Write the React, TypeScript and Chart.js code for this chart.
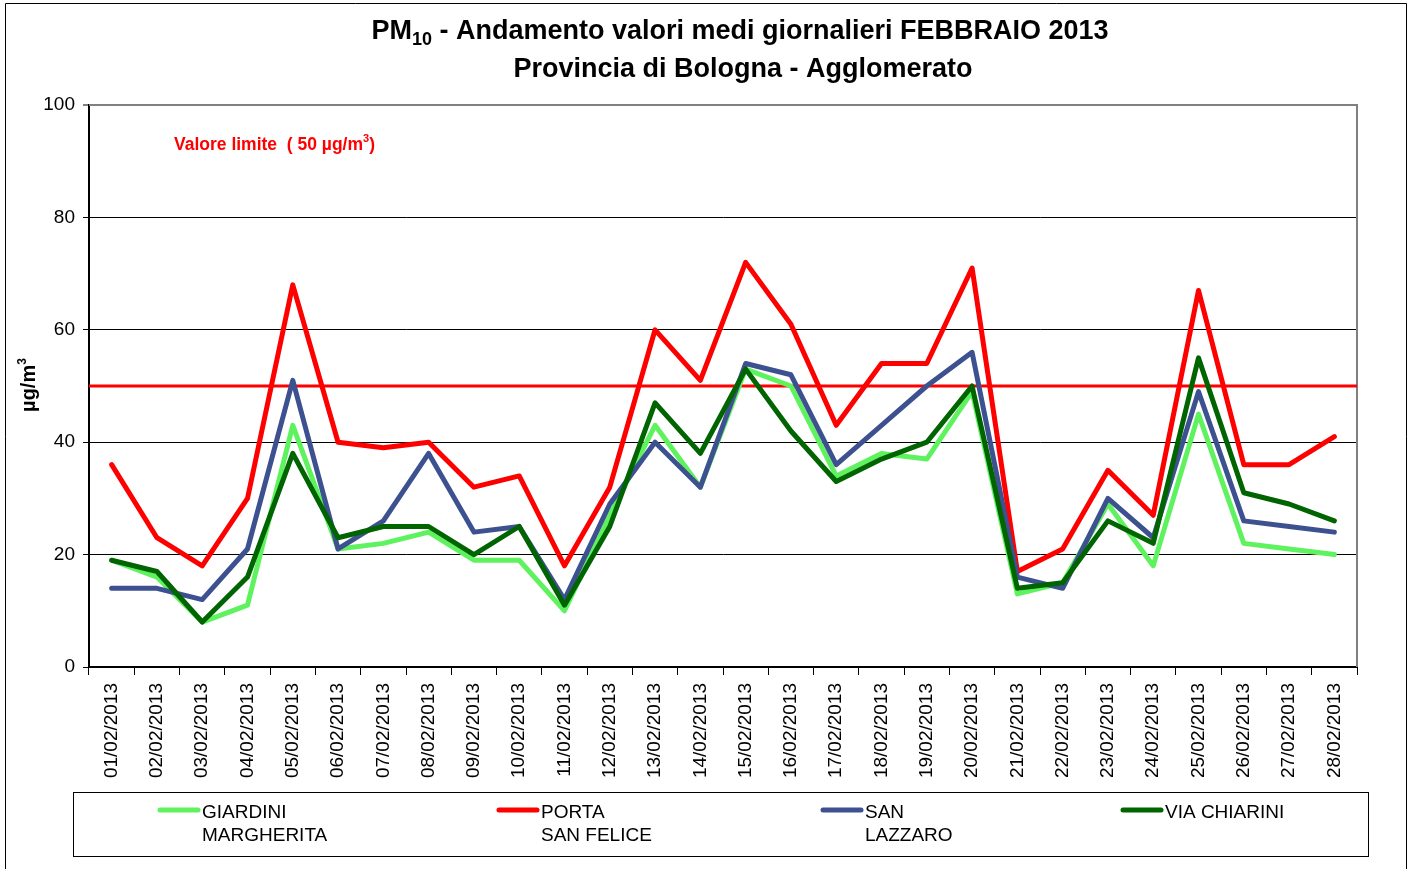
import React, { useEffect, useRef } from "react";
import { Chart, registerables } from "chart.js";

Chart.register(...registerables);

const DATES = [
  "01/02/2013", "02/02/2013", "03/02/2013", "04/02/2013", "05/02/2013", "06/02/2013", "07/02/2013",
  "08/02/2013", "09/02/2013", "10/02/2013", "11/02/2013", "12/02/2013", "13/02/2013", "14/02/2013",
  "15/02/2013", "16/02/2013", "17/02/2013", "18/02/2013", "19/02/2013", "20/02/2013", "21/02/2013",
  "22/02/2013", "23/02/2013", "24/02/2013", "25/02/2013", "26/02/2013", "27/02/2013", "28/02/2013",
];

const GIARDINI = [19, 16, 8, 11, 43, 21, 22, 24, 19, 19, 10, 27, 43, 32, 53, 50, 34, 38, 37, 49, 13, 15, 29, 18, 45, 22, 21, 20];
const PORTA = [36, 23, 18, 30, 68, 40, 39, 40, 32, 34, 18, 32, 60, 51, 72, 61, 43, 54, 54, 71, 17, 21, 35, 27, 67, 36, 36, 41];
const SAN_LAZZARO = [14, 14, 12, 21, 51, 21, 26, 38, 24, 25, 12, 29, 40, 32, 54, 52, 36, 43, 50, 56, 16, 14, 30, 23, 49, 26, 25, 24];
const VIA_CHIARINI = [19, 17, 8, 16, 38, 23, 25, 25, 20, 25, 11, 25, 47, 38, 53, 42, 33, 37, 40, 50, 14, 15, 26, 22, 55, 31, 29, 26];

const SERIES_NAMES = [["GIARDINI", "MARGHERITA"], ["PORTA", "SAN FELICE"], ["SAN", "LAZZARO"], ["VIA CHIARINI"]];
const SERIES_COLORS = ["#5FF25F", "#FF0000", "#3D5190", "#006400"];

const Y_TICKS = [0, 20, 40, 60, 80, 100];
const LIMIT_VALUE = 50;

const FONT = "'Liberation Sans', Arial, Helvetica, sans-serif";

const decorPlugin = {
  id: "decor",
  beforeDraw(chart: any) {
    const ctx = chart.ctx;
    ctx.save();
    ctx.fillStyle = "#fff";
    ctx.fillRect(0, 0, chart.width, chart.height);
    ctx.strokeStyle = "#000";
    ctx.lineWidth = 1;
    ctx.beginPath();
    ctx.moveTo(5.5, 869);
    ctx.lineTo(5.5, 3.5);
    ctx.lineTo(1406.5, 3.5);
    ctx.lineTo(1406.5, 869);
    ctx.stroke();
    ctx.restore();
  },
  beforeDatasetsDraw(chart: any) {
    const ctx = chart.ctx;
    const a = chart.chartArea;
    const y = chart.scales.y.getPixelForValue(LIMIT_VALUE);
    ctx.save();
    ctx.strokeStyle = "#808080";
    ctx.lineWidth = 2;
    ctx.beginPath();
    ctx.moveTo(a.left, a.top);
    ctx.lineTo(a.right, a.top);
    ctx.lineTo(a.right, a.bottom);
    ctx.stroke();
    ctx.strokeStyle = "#FF0000";
    ctx.lineWidth = 3;
    ctx.beginPath();
    ctx.moveTo(a.left, y);
    ctx.lineTo(a.right, y);
    ctx.stroke();
    ctx.restore();
  },
  afterDraw(chart: any) {
    const ctx = chart.ctx;
    ctx.save();
    ctx.fillStyle = "#000";
    ctx.textBaseline = "alphabetic";
    ctx.textAlign = "left";

    // Title line 1 with subscript
    const big = `bold 27px ${FONT}`;
    const small = `bold 18px ${FONT}`;
    const p1 = "PM";
    const p2 = "10";
    const p3 = " - Andamento valori medi giornalieri FEBBRAIO 2013";
    ctx.font = big;
    const w1 = ctx.measureText(p1).width;
    const w3 = ctx.measureText(p3).width;
    ctx.font = small;
    const w2 = ctx.measureText(p2).width;
    let x = 740 - (w1 + w2 + w3) / 2;
    ctx.font = big;
    ctx.fillText(p1, x, 39);
    x += w1;
    ctx.font = small;
    ctx.fillText(p2, x, 45);
    x += w2;
    ctx.font = big;
    ctx.fillText(p3, x, 39);

    ctx.textAlign = "center";
    ctx.fillText("Provincia di Bologna - Agglomerato", 743, 77);

    // annotation
    ctx.textAlign = "left";
    ctx.fillStyle = "#FF0000";
    const af = `bold 17.5px ${FONT}`;
    const as = `bold 11px ${FONT}`;
    ctx.font = af;
    let ax = 174;
    const t1 = "Valore limite  ( 50 µg/m";
    ctx.fillText(t1, ax, 150);
    ax += ctx.measureText(t1).width;
    ctx.font = as;
    ctx.fillText("3", ax, 142);
    ax += ctx.measureText("3").width;
    ctx.font = af;
    ctx.fillText(")", ax, 150);

    // y title
    ctx.fillStyle = "#000";
    ctx.translate(35, 385);
    ctx.rotate(-Math.PI / 2);
    const yf = `bold 20px ${FONT}`;
    const ys = `bold 12px ${FONT}`;
    ctx.font = yf;
    const yt = "µg/m";
    const yw = ctx.measureText(yt).width;
    ctx.font = ys;
    const y3 = ctx.measureText("3").width;
    let yx = -(yw + y3) / 2;
    ctx.font = yf;
    ctx.fillText(yt, yx, 0);
    yx += yw;
    ctx.font = ys;
    ctx.fillText("3", yx, -9);
    ctx.setTransform(1, 0, 0, 1, 0, 0);

    // legend
    ctx.strokeStyle = "#000";
    ctx.lineWidth = 1;
    ctx.strokeRect(73.5, 792.5, 1295, 64);
    const lx = [158, 497, 821, 1121];
    ctx.font = `19px ${FONT}`;
    ctx.textAlign = "left";
    for (let i = 0; i < SERIES_NAMES.length; i++) {
      ctx.strokeStyle = SERIES_COLORS[i];
      ctx.lineWidth = 5;
      ctx.lineCap = "round";
      ctx.beginPath();
      ctx.moveTo(lx[i] + 2, 810);
      ctx.lineTo(lx[i] + 40, 810);
      ctx.stroke();
      ctx.fillStyle = "#000";
      SERIES_NAMES[i].forEach((line, j) => {
        ctx.fillText(line, lx[i] + 44, 818 + j * 23);
      });
    }
    ctx.restore();
  },
};

export default function App() {
  const ref = useRef<HTMLCanvasElement | null>(null);

  useEffect(() => {
    if (!ref.current) return;
    const seriesData = [GIARDINI, PORTA, SAN_LAZZARO, VIA_CHIARINI];
    const chart = new Chart(ref.current, {
      type: "line",
      data: {
        labels: DATES,
        datasets: seriesData.map((d, i) => ({
          label: SERIES_NAMES[i].join(" "),
          data: d,
          borderColor: SERIES_COLORS[i],
          backgroundColor: SERIES_COLORS[i],
          borderWidth: 5,
          pointRadius: 0,
          tension: 0,
          borderJoinStyle: "round" as const,
          borderCapStyle: "round" as const,
          fill: false,
          order: seriesData.length - i,
        })),
      },
      options: {
        responsive: false,
        animation: false,
        devicePixelRatio: 1,
        layout: { padding: { top: 105, right: 58, bottom: 0, left: 0 } },
        plugins: {
          legend: { display: false },
          title: { display: false },
          tooltip: { enabled: false },
        },
        scales: {
          x: {
            type: "category",
            offset: true,
            grid: {
              offset: true,
              drawOnChartArea: false,
              drawTicks: true,
              tickLength: 8,
              color: "#000",
              lineWidth: 1,
            },
            border: { display: true, color: "#000", width: 2 },
            ticks: {
              autoSkip: false,
              minRotation: 90,
              maxRotation: 90,
              padding: 8,
              color: "#000",
              font: { size: 19, family: FONT },
            },
            afterFit: (s: any) => {
              s.height = 202;
            },
          },
          y: {
            min: 0,
            max: 100,
            afterBuildTicks: (s: any) => {
              s.ticks = Y_TICKS.map((v) => ({ value: v }));
            },
            grid: {
              color: (c: any) => (c.tick && c.tick.value === 100 ? "#808080" : "#000"),
              lineWidth: (c: any) => (c.tick && c.tick.value === 100 ? 2 : 1),
              drawTicks: true,
              tickLength: 6,
            },
            border: { display: true, color: "#000", width: 2 },
            ticks: {
              padding: 8,
              color: "#000",
              font: { size: 19, family: FONT },
            },
            afterFit: (s: any) => {
              s.width = 89;
            },
          },
        },
      },
      plugins: [decorPlugin],
    } as any);
    return () => chart.destroy();
  }, []);

  return (
    <div style={{ position: "absolute", left: 0, top: 0, width: 1415, height: 869, background: "#fff" }}>
      <canvas ref={ref} width={1415} height={869} style={{ display: "block" }} />
    </div>
  );
}
